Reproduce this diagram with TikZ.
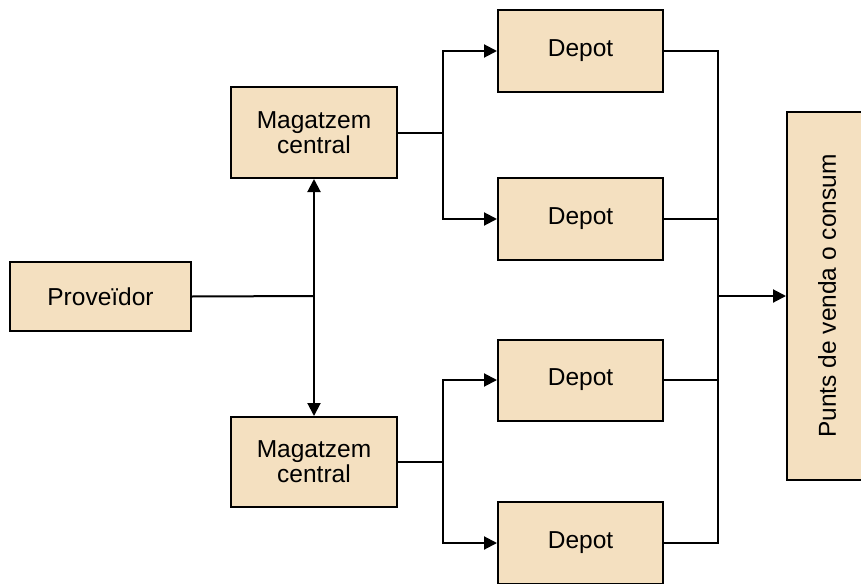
\documentclass[tikz,border=0pt]{standalone}
\usepackage{fontspec}
\setmainfont{Liberation Sans}
\usetikzlibrary{arrows.meta}
\definecolor{boxfill}{RGB}{244,224,192}
\tikzset{
  block/.style={draw=black, line width=2pt, fill=boxfill, inner sep=0pt,
    font=\fontsize{24.5}{25}\selectfont, align=center},
  link/.style={line width=2pt},
  flow/.style={line width=2pt, -{Triangle[length=13pt,width=13pt]}},
}
\begin{document}
\begin{tikzpicture}[x=1pt,y=-1pt]
\useasboundingbox (0,0) rectangle (861,583);
\begin{scope}
\clip (0,0) rectangle (861,583);
% boxes
\node[block, minimum width=181pt, minimum height=69pt] (prov) at (100.5,296.5) {Proveïdor};
\node[block, minimum width=166pt, minimum height=91pt] (mt) at (314,132.5) {Magatzem\\central};
\node[block, minimum width=166pt, minimum height=90pt] (mb) at (314,462) {Magatzem\\central};
\node[block, minimum width=165pt, minimum height=82pt] (d1) at (580.5,51) {Depot};
\node[block, minimum width=165pt, minimum height=82pt] (d2) at (580.5,219) {Depot};
\node[block, minimum width=165pt, minimum height=81pt] (d3) at (580.5,380) {Depot};
\node[block, minimum width=165pt, minimum height=82pt] (d4) at (580.5,543) {Depot};
\node[block, minimum width=80pt, minimum height=368pt] (punts) at (827,296) {};
\node[font=\fontsize{24.5}{25}\selectfont, rotate=90] (puntstext) at (punts.center) {Punts de venda o consum};
% junction points
\coordinate (jp) at (314,296);
\coordinate (jt) at (443,132.5);
\coordinate (jb) at (443,462);
\coordinate (jr) at (718,296);
% supplier to central warehouses
\draw[link] (prov.east) -- (jp);
\draw[flow] (jp) -- (mt.south);
\draw[flow] (jp) -- (mb.north);
% central warehouses to depots
\draw[link] (mt.east) -- (jt);
\draw[flow] (jt) |- (d1.west);
\draw[flow] (jt) |- (d2.west);
\draw[link] (mb.east) -- (jb);
\draw[flow] (jb) |- (d3.west);
\draw[flow] (jb) |- (d4.west);
% depots to points of sale
\draw[link] (d1.east) -| (jr);
\draw[link] (d2.east) -| (jr);
\draw[link] (d3.east) -| (jr);
\draw[link] (d4.east) -| (jr);
\draw[flow] (jr) -- (punts.west);
\end{scope}
\end{tikzpicture}
\end{document}
